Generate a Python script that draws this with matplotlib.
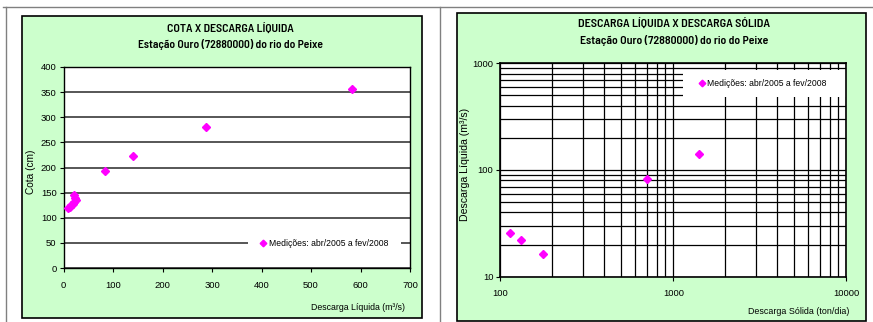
import numpy as np
import matplotlib
matplotlib.use("Agg")
import matplotlib.pyplot as plt
from matplotlib.patches import Rectangle
from matplotlib.lines import Line2D
from matplotlib.ticker import LogLocator, NullFormatter, FixedLocator

plt.rcParams['font.family'] = ['Liberation Sans', 'DejaVu Sans']
fonte_titulo = ['Barlow Semi Condensed', 'Liberation Sans', 'DejaVu Sans']

# cota x descarga liquida
vazao = [10, 13, 16, 19, 22, 26, 24, 22, 84, 141, 288, 583]
cota = [119, 122, 125, 128, 131, 136, 140, 145, 193, 223, 280, 356]

# descarga solida x descarga liquida
solida = [114, 131, 176, 702, 1400]
liquida = [25.5, 21.9, 16.3, 82, 141]

legenda = "Medições: abr/2005 a fev/2008"
verde = "#CCFFCC"
magenta = "#FF00FF"

W, H = 873, 322
fig = plt.figure(figsize=(W / 100, H / 100), dpi=100)
fig.patch.set_facecolor("white")

def px(x, y):
    return x / W, 1 - y / H

def titulo(x, y, texto, tam):
    fig.text(*px(x, y), texto, ha="center", va="center", fontsize=tam,
             fontweight=600, family=fonte_titulo)

def legenda_branca(ax, caixa, ancora):
    # white box under the legend, hiding the grid lines
    x0, y0, x1, y1 = caixa
    ax.add_patch(Rectangle((x0, y0), x1 - x0, y1 - y0, transform=ax.transAxes,
                           facecolor="white", edgecolor="none", zorder=1))
    ax.legend(loc="center left", bbox_to_anchor=ancora, fontsize=6.2,
              frameon=False, handletextpad=0.15, handlelength=1.0,
              borderpad=0, borderaxespad=0, markerscale=0.75)

# page frame lines
for xs, ys in [([3, 873], [7, 7]), ([6, 6], [7, 322]), ([440, 440], [7, 322])]:
    fig.add_artist(Line2D([x / W for x in xs], [1 - y / H for y in ys],
                          color="#808080", lw=1.0))

# green boxes
for x0, y0, x1, y1 in [(22, 16, 422, 318), (457, 13, 866, 321)]:
    fig.add_artist(Rectangle((x0 / W, 1 - y1 / H), (x1 - x0) / W, (y1 - y0) / H,
                             transform=fig.transFigure, facecolor=verde,
                             edgecolor="black", lw=1.2, zorder=0))

# left chart
ax1 = fig.add_axes([63.5 / W, 1 - 268 / H, 346.5 / W, 201 / H])
ax1.set_facecolor("white")
ax1.set_xlim(0, 700)
ax1.set_ylim(0, 400)
ax1.set_xticks(np.arange(0, 701, 100))
ax1.set_yticks(np.arange(0, 401, 50))
ax1.yaxis.grid(True, color="#3a3a3a", lw=1.2)
ax1.set_axisbelow(True)
ax1.plot(vazao, cota, ls="none", marker="D", ms=4.5, color=magenta,
         mec=magenta, label=legenda, zorder=3)
ax1.tick_params(labelsize=6.8, length=3, width=0.8, direction="out")
ax1.tick_params(axis="x", pad=6)
ax1.tick_params(axis="y", pad=2)
for s in ax1.spines.values():
    s.set_linewidth(1.0)
ax1.set_ylabel("Cota (cm)", fontsize=7.3)
ax1.yaxis.set_label_coords((36 - 63.5) / 346.5, 0.48)
legenda_branca(ax1, (0.5325, 0.09, 0.974, 0.159), (0.564, 0.124))
fig.text(*px(405, 307), "Descarga Líquida (m³/s)", ha="right", va="center", fontsize=6.3)
titulo(230, 29, "COTA X DESCARGA LÍQUIDA", 8.5)
titulo(230, 45, "Estação Ouro (72880000) do rio do Peixe", 8.3)

# right chart
ax2 = fig.add_axes([500.3 / W, 1 - 276.7 / H, 346 / W, 213.4 / H])
ax2.set_facecolor("white")
ax2.set_xscale("log")
ax2.set_yscale("log")
ax2.set_xlim(100, 10000)
ax2.set_ylim(10, 1000)
ax2.xaxis.set_major_locator(FixedLocator([100, 1000, 10000]))
ax2.yaxis.set_major_locator(FixedLocator([10, 100, 1000]))
ax2.xaxis.set_major_formatter(plt.FuncFormatter(lambda v, p: "%d" % v))
ax2.yaxis.set_major_formatter(plt.FuncFormatter(lambda v, p: "%d" % v))
ax2.xaxis.set_minor_locator(LogLocator(base=10, subs=np.arange(2, 10)))
ax2.yaxis.set_minor_locator(LogLocator(base=10, subs=np.arange(2, 10)))
ax2.xaxis.set_minor_formatter(NullFormatter())
ax2.yaxis.set_minor_formatter(NullFormatter())
ax2.grid(True, which="both", color="black", lw=0.9)
ax2.set_axisbelow(True)
ax2.plot(solida, liquida, ls="none", marker="D", ms=4.5, color=magenta,
         mec=magenta, label=legenda, zorder=3)
ax2.tick_params(which="major", labelsize=6.8, length=3, width=0.8)
ax2.tick_params(axis="x", which="major", pad=6)
ax2.tick_params(axis="y", which="major", pad=2)
ax2.tick_params(which="minor", length=0)
for s in ax2.spines.values():
    s.set_linewidth(1.2)
ax2.set_ylabel("Descarga Líquida (m³/s)", fontsize=7.6)
ax2.yaxis.set_label_coords((470 - 500.3) / 346, (276.7 - 164) / 213.4)
legenda_branca(ax2, (0.527, 0.8435, 1.0, 0.97), (0.5697, 0.907))
fig.text(*px(849, 312), "Descarga Sólida (ton/dia)", ha="right", va="center", fontsize=6.4)
titulo(674, 24, "DESCARGA LÍQUIDA X DESCARGA SÓLIDA", 8.7)
titulo(674, 41, "Estação Ouro (72880000) do rio do Peixe", 8.5)

fig.savefig("out.png", dpi=100)
